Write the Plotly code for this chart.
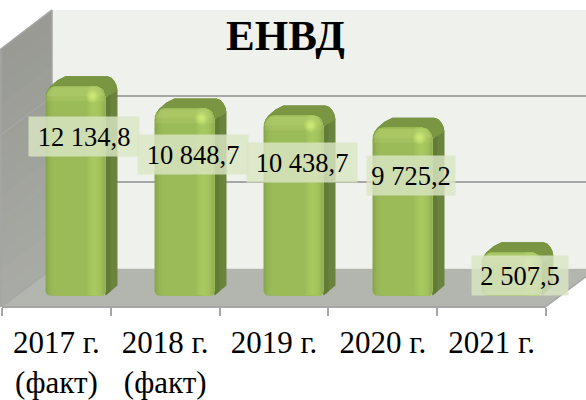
import plotly.graph_objects as go

# ---- data ----
categories = ["2017 г.<br>(факт)", "2018 г.<br>(факт)", "2019 г.", "2020 г.", "2021 г."]
values = [12134.8, 10848.7, 10438.7, 9725.2, 2507.5]
value_labels = ["12 134,8", "10 848,7", "10 438,7", "9 725,2", "2 507,5"]
title_text = "ЕНВД"

# ---- layout constants (pixels in the 586x400 picture) ----
W, H = 586, 400
FONT = "Liberation Serif"
FRONT_Y, BAR_BASE = 308, 297
Y_MAX = 15000
UX = 1 / 109                    # data units per pixel, x
UY = Y_MAX / 260                # data units per pixel, y
HALF = 30 * UX
DX, DY = 12 * UX, 10 * UY
label_offset = [50, 46, 47, 48, 23]
label_width = [110, 110, 110, 88, 96]


def px(x):
    return x / W


def py(y):
    return 1 - y / H


def paper_path(points):
    return "M " + " L ".join(f"{px(x):.5f},{py(y):.5f}" for x, y in points) + " Z"


def polygons(pts_per_bar):
    xs, ys = [], []
    for pts in pts_per_bar:
        xs += [p[0] for p in pts] + [None]
        ys += [p[1] for p in pts] + [None]
    return xs, ys


def poly_trace(pts_per_bar, color):
    xs, ys = polygons(pts_per_bar)
    return go.Scatter(x=xs, y=ys, xaxis="x2", yaxis="y2", mode="none", fill="toself",
                      fillcolor=color, hoverinfo="skip", showlegend=False)


def corner(u, r):
    """pixels lost from the top at distance u from a rounded edge of radius r"""
    if u >= r:
        return 0
    return r - (r * r - (r - u) ** 2) ** 0.5


def lerp_hex(c1, c2, t):
    a = [int(c1[i:i + 2], 16) for i in (1, 3, 5)]
    b = [int(c2[i:i + 2], 16) for i in (1, 3, 5)]
    return "#" + "".join(f"{round(p + (q - p) * t):02x}" for p, q in zip(a, b))


# colour ramp over the width of a bar front
ramp = [(0, "#84a147"), (0.06, "#94b354"), (0.14, "#9bbb59"), (0.68, "#9bbb59"),
        (0.8, "#a8ca61"), (0.92, "#a2c15c"), (1, "#8dab4f")]


def ramp_color(u):
    for (u0, c0), (u1, c1) in zip(ramp, ramp[1:]):
        if u <= u1:
            return lerp_hex(c0, c1, (u - u0) / (u1 - u0))
    return ramp[-1][1]


fig = go.Figure()

# wall subplot: only carries the back-wall gridlines
fig.add_trace(go.Scatter(x=[0], y=[0], xaxis="x", yaxis="y", mode="none",
                         hoverinfo="skip", showlegend=False))

# side face + back silhouette
sil, top, side2 = [], [], []
for i, v in enumerate(values):
    L, R = i - HALF, i + HALF
    rounded_back = [(R + DX, v - 4 * UY), (R + DX - 1 * UX, v + 1 * UY), (R + DX - 3 * UX, v + 5 * UY),
                    (R + DX - 6 * UX, v + 8.5 * UY), (R + DX - 10 * UX, v + DY)]
    front_left = [(L + DX + 8 * UX, v + DY), (L + 12 * UX, v + 6 * UY), (L + 5 * UX, v), (L + 2 * UX, v - 4 * UY)]
    sil.append([(R, 0), (R + DX, DY)] + rounded_back + front_left + [(L, v - 9 * UY), (R, v - 9 * UY)])
    top.append(rounded_back + front_left + [(L + 3 * UX, v - 7 * UY), (R, v - 12 * UY), (R + DX - 3 * UX, v - 6 * UY)])
    side2.append([(R, 0), (R + 5 * UX, 4 * UY), (R + 5 * UX, v - 8 * UY), (R, v - 12 * UY)])
fig.add_trace(poly_trace(sil, "#6a843d"))
fig.add_trace(poly_trace(top, "#7b9642"))
fig.add_trace(poly_trace(side2, "#627b37"))

# front face, drawn as narrow overlapping vertical strips to give the shading
N = 30
for k in range(N):
    u0 = k / N
    strips = []
    for i, v in enumerate(values):
        L = i - HALF
        w = 60
        x0 = L + u0 * 2 * HALF
        e0 = min(u0, 1 - u0) * w
        pts_bottom = [(x0, corner(e0, 4) * UY)]
        pts_top = [(x0, v - corner(e0, 11) * UY)]
        for j in range(k + 1, N + 1):
            uj = j / N
            ej = min(uj, 1 - uj) * w
            xj = L + uj * 2 * HALF
            pts_bottom.append((xj, corner(ej, 4) * UY))
            pts_top.append((xj, v - corner(ej, 11) * UY))
        strips.append(pts_bottom + pts_top[::-1])
    fig.add_trace(poly_trace(strips, ramp_color(u0 + 0.5 / N)))

# lighter band at the top of each front
for h, col in ((15, "rgba(190,215,120,0.22)"), (10, "rgba(190,215,120,0.28)")):
    band = []
    for i, v in enumerate(values):
        L, R = i - HALF, i + HALF
        band.append([(L + 1 * UX, v - h * UY), (R - 1 * UX, v - h * UY),
                     (R - 1 * UX, v - 8 * UY), (R - 7 * UX, v - 1 * UY),
                     (L + 7 * UX, v - 1 * UY), (L + 1 * UX, v - 8 * UY)])
    fig.add_trace(poly_trace(band, col))

# small glossy highlight: concentric translucent dots
for size, alpha in ((13, 0.25), (9, 0.35), (5, 0.5)):
    fig.add_trace(go.Scatter(
        x=[i + 17 * UX for i in range(len(values))],
        y=[v - 10 * UY for v in values],
        xaxis="x2", yaxis="y2", mode="markers",
        marker=dict(size=size, color=f"rgba(212,240,120,{alpha})", line=dict(width=0)),
        hoverinfo="skip", showlegend=False))

# front axis carrying the category labels
fig.add_trace(go.Scatter(x=categories, y=[0] * 5, xaxis="x3", yaxis="y3", mode="none",
                         hoverinfo="skip", showlegend=False))

# data labels
annotations = [
    dict(x=i + 8 * UX, y=v, xref="x2", yref="y2", yshift=-label_offset[i], text=t,
         showarrow=False, width=label_width[i], height=39, borderpad=0,
         xanchor="center", yanchor="middle", valign="middle", align="center",
         bgcolor="rgba(218,229,195,0.82)",
         font=dict(family=FONT, size=26.5, color="black"))
    for i, (v, t) in enumerate(zip(values, value_labels))
]
annotations.append(dict(x=px(285), y=py(36), xref="paper", yref="paper", text=f"<b>{title_text}</b>",
                        showarrow=False, xanchor="center", yanchor="middle",
                        font=dict(family=FONT, size=43, color="black")))

EDGE = "#a6a6a6"
shapes = [
    dict(type="path", path=paper_path([(52, 10), (W, 10), (W, 270), (52, 270)]),
         xref="paper", yref="paper", fillcolor="#eff2ec", line=dict(width=0), layer="below"),
]
# left wall: overlapping slanted bands, lightening downward
BANDS = 14
for b in range(BANDS):
    t = b / BANDS
    shapes.append(dict(type="path",
                       path=paper_path([(0, 50 + 258 * t), (52, 10 + 260 * t), (52, 270), (2, 308), (0, 308)]),
                       xref="paper", yref="paper", fillcolor=lerp_hex("#989a93", "#a9aba5", t),
                       line=dict(width=0), layer="below"))
shapes.append(dict(type="path", path=paper_path([(2, 308), (52, 270), (W, 270), (W, 278), (546, 308)]),
                   xref="paper", yref="paper", fillcolor="#b3b5af", line=dict(width=0), layer="below"))
for (x0, y0, x1, y1) in [(0, 50, 52, 10), (0, 136, 52, 97), (0, 223, 52, 183),
                         (2, 308, 52, 270), (52, 10, 52, 270), (1, 50, 1, 308), (546, 308, 586, 278)]:
    shapes.append(dict(type="line", xref="paper", yref="paper",
                       x0=px(x0), y0=py(y0), x1=px(x1), y1=py(y1),
                       line=dict(color=EDGE, width=1.5), layer="between"))

fig.update_layout(
    width=W, height=H, autosize=False,
    margin=dict(l=0, r=0, t=0, b=0),
    paper_bgcolor="white", plot_bgcolor="rgba(0,0,0,0)",
    showlegend=False, annotations=annotations, shapes=shapes,
    # back wall
    xaxis=dict(domain=[px(52), 1], range=[0, 1], visible=False, anchor="y"),
    yaxis=dict(domain=[py(270), py(10)], range=[0, Y_MAX], anchor="x",
               tickmode="array", tickvals=[0, 5000, 10000, 15000], showticklabels=False,
               showgrid=True, gridcolor=EDGE, gridwidth=2, zeroline=False, showline=False, ticks=""),
    # bars
    xaxis2=dict(domain=[px(21), px(566)], range=[-0.5, 4.5], visible=False, anchor="y2"),
    yaxis2=dict(domain=[py(BAR_BASE), py(37)], range=[0, Y_MAX], visible=False, anchor="x2"),
    # front axis
    xaxis3=dict(domain=[px(2), px(546)], type="category", range=[-0.5, 4.5], anchor="y3",
                tickson="boundaries", ticks="outside", ticklen=8, tickwidth=1.5, tickcolor=EDGE,
                showline=True, linecolor=EDGE, linewidth=2, showgrid=False, zeroline=False,
                tickfont=dict(family=FONT, size=31, color="black"), tickangle=0, ticklabelstandoff=7),
    yaxis3=dict(domain=[py(FRONT_Y), 1], range=[0, 1], visible=False, anchor="x3"),
)

fig.write_html("out.html", config={"displayModeBar": False},
               post_script="document.body.style.margin='0';document.documentElement.style.overflow='hidden';")
